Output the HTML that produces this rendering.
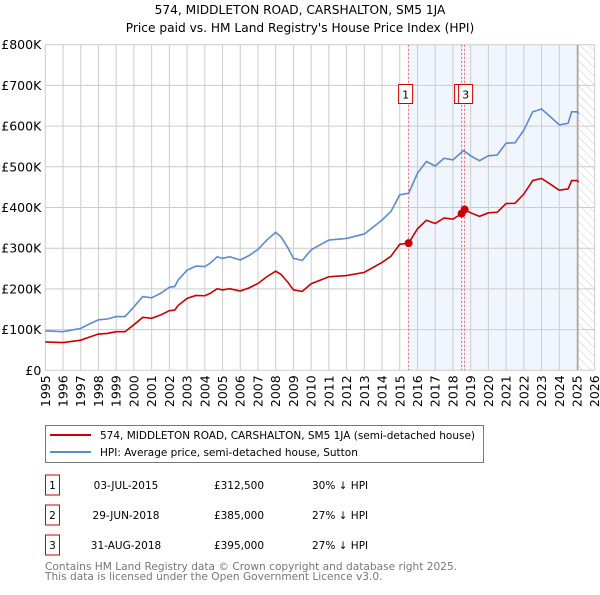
<!DOCTYPE html>
<html><head><meta charset="utf-8"><style>
body{margin:0;background:#fff;font-family:"Liberation Sans","DejaVu Sans",sans-serif}
svg text{font-family:"DejaVu Sans","Liberation Sans",sans-serif}
</style></head><body>
<svg id="chart" width="600" height="590" xmlns="http://www.w3.org/2000/svg">
<defs><pattern id="hatch" width="6" height="6" patternUnits="userSpaceOnUse" patternTransform="rotate(-45)"><line x1="0" y1="0" x2="0" y2="6" stroke="#ccc" stroke-width="1"/></pattern></defs>
<text x="300" y="14" text-anchor="middle" font-size="12.2">574, MIDDLETON ROAD, CARSHALTON, SM5 1JA</text>
<text x="300" y="32" text-anchor="middle" font-size="12.2">Price paid vs. HM Land Registry's House Price Index (HPI)</text>
<g id="plot"></g>
<g>
<rect x="45.5" y="425.5" width="438" height="37" fill="#fff" stroke="#777"/>
<line x1="50" y1="435" x2="91" y2="435" stroke="#cc0000" stroke-width="2"/>
<text x="100" y="439" font-size="10.5">574, MIDDLETON ROAD, CARSHALTON, SM5 1JA (semi-detached house)</text>
<line x1="50" y1="452" x2="91" y2="452" stroke="#5b8bd0" stroke-width="2"/>
<text x="100" y="456" font-size="10.5">HPI: Average price, semi-detached house, Sutton</text>
</g>
<g id="table" font-size="10.5"></g>
<text x="45" y="570" font-size="10.6" fill="#777">Contains HM Land Registry data © Crown copyright and database right 2025.</text>
<text x="45" y="580" font-size="10.6" fill="#777">This data is licensed under the Open Government Licence v3.0.</text>
</svg>
<script>
const hpiYears=[1995,1996,1997,1997.5,1998,1998.5,1999,1999.5,2000,2000.5,2001,2001.5,2002,2002.3,2002.5,2003,2003.5,2004,2004.3,2004.7,2005,2005.4,2006,2006.5,2007,2007.5,2008,2008.3,2008.7,2009,2009.5,2010,2011,2012,2013,2014,2014.5,2015,2015.5,2016,2016.5,2017,2017.5,2018,2018.6,2019,2019.5,2020,2020.5,2021,2021.5,2022,2022.5,2023,2023.5,2024,2024.5,2024.7,2025,2025.1];
const hpiValues=[97,95,103,114,124,126,132,132,156,181,178,189,204,206,222,246,256,255,263,279,275,279,271,282,297,320,339,328,300,275,270,296,320,324,335,369,390,431,435,484,513,502,521,517,540,527,515,527,529,558,559,590,635,642,623,603,607,635,635,630];
const saleLabels=["1","2","3"];
const saleDates=[2015.5,2018.49,2018.66];
const salePrices=[312.5,385,395];
const saleDateText=["03-JUL-2015","29-JUN-2018","31-AUG-2018"];
const salePriceText=["£312,500","£385,000","£395,000"];
const saleDiffText=["30% ↓ HPI","27% ↓ HPI","27% ↓ HPI"];
const yTicks=[0,100,200,300,400,500,600,700,800];
const yTickLabels=["£0","£100K","£200K","£300K","£400K","£500K","£600K","£700K","£800K"];
const xTicks=[1995,1996,1997,1998,1999,2000,2001,2002,2003,2004,2005,2006,2007,2008,2009,2010,2011,2012,2013,2014,2015,2016,2017,2018,2019,2020,2021,2022,2023,2024,2025,2026];
const X0=45.3,X1=594.7,Y0=370.3,Y1=44.7;
const xs=t=>X0+(t-1995)/31*(X1-X0);
const ys=v=>Y0-v/800*(Y0-Y1);
const NS="http://www.w3.org/2000/svg";
const plot=document.getElementById('plot');
function mk(tag,attrs,parent){const e=document.createElementNS(NS,tag);for(const k in attrs)e.setAttribute(k,attrs[k]);(parent||plot).appendChild(e);return e;}
function hpiAt(t){for(let i=0;i<hpiYears.length-1;i++){if(t<=hpiYears[i+1]){const f=(t-hpiYears[i])/(hpiYears[i+1]-hpiYears[i]);return hpiValues[i]+f*(hpiValues[i+1]-hpiValues[i]);}}return hpiValues[hpiValues.length-1];}
let r=mk('rect',{x:xs(saleDates[0]),y:Y1,width:xs(2025.05)-xs(saleDates[0]),height:Y0-Y1,fill:'#eef3fc',opacity:0.8});


r=mk('rect',{x:xs(2025.05),y:Y1,width:X1-xs(2025.05),height:Y0-Y1,fill:'url(#hatch)'});


yTicks.forEach((v,i)=>{
 const l=mk('line',{x1:X0,x2:X1,y1:ys(v),y2:ys(v),stroke:'#ccc','stroke-width':1});
 
 
 const t=mk('text',{x:X0-4,y:ys(v)+4.5,'text-anchor':'end','font-size':12.5});
 
 
 t.textContent=yTickLabels[i];
});
xTicks.forEach(y=>{
 const l=mk('line',{x1:xs(y),x2:xs(y),y1:Y1,y2:Y0,stroke:'#ccc','stroke-width':1});
 
 
 const t=mk('text',{x:0,y:0,'text-anchor':'end','font-size':12.5,transform:`translate(${xs(y)+4.5},${Y0+5}) rotate(-90)`});
 
 
 t.textContent=y;
});
let v=mk('line',{x1:xs(2025.05),x2:xs(2025.05),y1:Y1,y2:Y0,stroke:'#999','stroke-width':1.2});


saleDates.forEach((d,i)=>{
 const l=mk('line',{x1:xs(d),x2:xs(d),y1:Y1,y2:Y0,stroke:'#f06060','stroke-dasharray':'2,2','stroke-width':1});
 
 
});
let pts=hpiYears.map((y,i)=>xs(y)+','+ys(hpiValues[i])).join(' ');
let p=mk('polyline',{points:pts,fill:'none',stroke:'#5b8bd0','stroke-width':1.6});


function factorAt(t){let k=0;for(let i=0;i<saleDates.length;i++){if(t>=saleDates[i])k=i;}return salePrices[k]/hpiAt(saleDates[k]);}
const redPts=[];
hpiYears.forEach((y,i)=>{
 saleDates.forEach(d=>{if(i>0&&d>hpiYears[i-1]&&d<=y){redPts.push([d-0.001,hpiAt(d-0.001)*factorAt(d-0.001)]);redPts.push([d,hpiAt(d)*factorAt(d)]);}});
 redPts.push([y,hpiValues[i]*factorAt(y)]);
});
p=mk('polyline',{points:redPts.map(q=>xs(q[0])+','+ys(q[1])).join(' '),fill:'none',stroke:'#cc0000','stroke-width':1.6});


saleDates.forEach((d,i)=>{
 const c=mk('circle',{cx:xs(d),cy:ys(salePrices[i]),r:4,fill:'#cc0000'});
 
 
});
[0,1,2].forEach(i=>{
 const cx=xs(saleDates[i])-(i===0?3:(i===1?0:-1));
 const g=mk('g',{});
 
 
 mk('rect',{x:cx-7,y:84.5,width:14,height:19,fill:'#fff',stroke:'#cc0000'},g);
 const t=mk('text',{x:cx,y:98.5,'text-anchor':'middle','font-size':11},g);
 t.textContent=saleLabels[i];
});
const tb=document.getElementById('table');
saleLabels.forEach((lab,i)=>{
 const cy=485+30*i;
 const g=mk('g',{},tb);
 
 
 mk('rect',{x:45.5,y:cy-10,width:14,height:20,fill:'#fff',stroke:'#cc0000'},g);
 let t=mk('text',{x:52.5,y:cy+4,'text-anchor':'middle'},g);t.textContent=lab;
 t=mk('text',{x:126,y:cy+4,'text-anchor':'middle'},g);t.textContent=saleDateText[i];
 t=mk('text',{x:239,y:cy+4,'text-anchor':'middle'},g);t.textContent=salePriceText[i];
 t=mk('text',{x:312,y:cy+4},g);t.textContent=saleDiffText[i];
});
</script>
</body></html>
